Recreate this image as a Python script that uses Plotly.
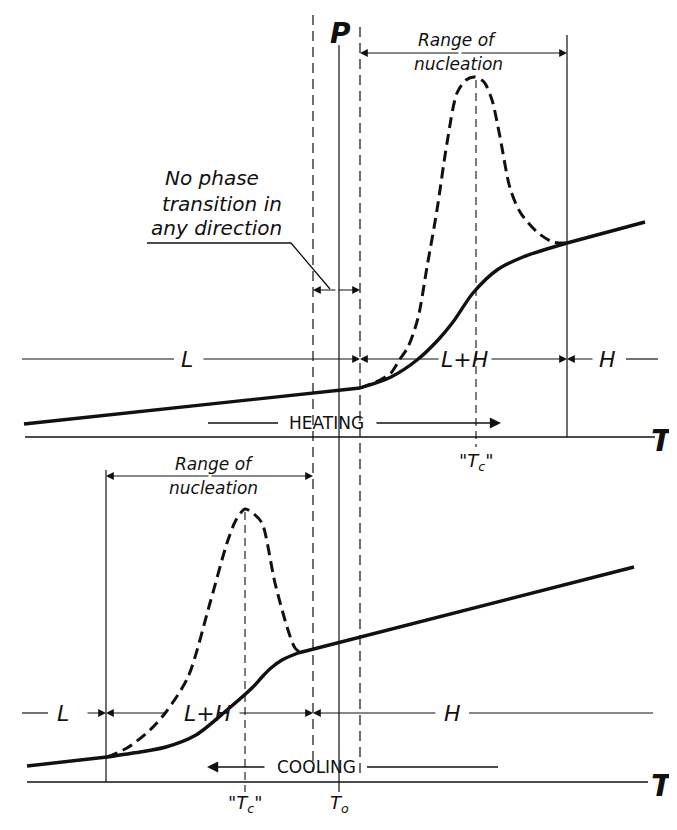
import plotly.graph_objects as go

# ---- curve data (x = T direction, y = pixel row, downwards) ----
# heating (upper panel)
heat_lin_x = [24, 360]
heat_lin_y = [424, 388]
heat_solid_x = [360, 391, 417, 438, 453, 473, 497, 523, 567]
heat_solid_y = [388, 377, 360, 340, 322, 293, 270, 257, 243]
heat_high_x = [567, 645]
heat_high_y = [243, 222]
heat_dash_x = [360, 380, 391, 400, 408, 418, 427, 437, 447, 457, 466, 475, 484, 492, 500, 510, 520, 537, 553, 567]
heat_dash_y = [388, 380, 373, 359, 347, 318, 267, 210, 143, 93, 80, 77, 82, 100, 137, 188, 212, 232, 242, 243]

# cooling (lower panel)
cool_lin_x = [27, 107]
cool_lin_y = [766, 757]
cool_solid_x = [107, 140, 166, 196, 227, 253, 262, 271, 282, 298]
cool_solid_y = [757, 752, 747, 735, 710, 687, 677, 668, 660, 653]
cool_high_x = [298, 634]
cool_high_y = [653, 567]
cool_dash_x = [107, 127, 150, 166, 188, 210, 227, 236, 245, 254, 262, 275, 288, 295, 301]
cool_dash_y = [757, 748, 730, 712, 677, 603, 543, 520, 509, 514, 523, 583, 630, 648, 653]

# characteristic temperatures (x positions)
T_low = 313       # left edge of "no transition" band
T_0 = 339         # P / T0
T_high = 360      # right edge of band
Tc_heat = 476
Tc_cool = 245
nuc_heat_end = 567
nuc_cool_start = 106

axis_heat_y = 437
axis_cool_y = 782
dim_heat_y = 359
dim_cool_y = 713

# the page body has an 8px margin, so the figure starts 8px in
OFF = 8

fig = go.Figure()


def line(x, y, width=1.2, dash="solid", color="#111"):
    fig.add_trace(go.Scatter(x=x, y=y, mode="lines", hoverinfo="skip", showlegend=False,
                             line=dict(color=color, width=width, dash=dash)))


def spline(x, y, width=3.4, dash="solid"):
    fig.add_trace(go.Scatter(x=x, y=y, mode="lines", hoverinfo="skip", showlegend=False,
                             line=dict(color="#111", width=width, dash=dash, shape="spline", smoothing=0.8)))


def arrow(x0, y0, x1, y1, head=2, size=1.3, width=1.2):
    # arrow drawn from (x0, y0) to tip at (x1, y1)
    fig.add_annotation(x=x1, y=y1, ax=x0, ay=y0, xref="x", yref="y", axref="x", ayref="y",
                       text="", showarrow=True, arrowhead=head, arrowsize=size,
                       arrowwidth=width, arrowcolor="#111")


def label(x, y, text, size=18, italic=True, bold=False, family="DejaVu Sans"):
    fig.add_annotation(x=x, y=y, xref="x", yref="y", text=text, showarrow=False,
                       font=dict(family=family, size=size, color="#111",
                                 style="italic" if italic else "normal",
                                 weight="bold" if bold else "normal"))


# ---- vertical reference lines ----
line([T_low, T_low], [15, 772], width=1.2, dash="10px,6px")
line([T_high, T_high], [27, 776], width=1.2, dash="10px,6px")
line([T_0, T_0], [45, 792], width=1.2)
line([nuc_heat_end, nuc_heat_end], [35, axis_heat_y], width=1.2)
line([nuc_cool_start, nuc_cool_start], [470, axis_cool_y], width=1.2)
line([Tc_heat, Tc_heat], [80, 447], width=1.1, dash="8px,5px")
line([Tc_cool, Tc_cool], [512, 792], width=1.1, dash="8px,5px")

# ---- T axes ----
line([25, 655], [axis_heat_y, axis_heat_y], width=1.6)
line([27, 648], [axis_cool_y, axis_cool_y], width=1.6)

# ---- curves ----
line(heat_lin_x, heat_lin_y, width=3.4)
spline(heat_solid_x, heat_solid_y)
line(heat_high_x, heat_high_y, width=3.4)
spline(heat_dash_x, heat_dash_y, width=3.0, dash="11px,6px")

line(cool_lin_x, cool_lin_y, width=3.4)
spline(cool_solid_x, cool_solid_y)
line(cool_high_x, cool_high_y, width=3.4)
spline(cool_dash_x, cool_dash_y, width=3.0, dash="11px,6px")

# ---- upper dimension line: L | L+H | H ----
line([22, 174], [dim_heat_y, dim_heat_y])
arrow(202, dim_heat_y, T_high, dim_heat_y)
arrow(440, dim_heat_y, T_high, dim_heat_y)
arrow(490, dim_heat_y, nuc_heat_end, dim_heat_y)
arrow(594, dim_heat_y, nuc_heat_end, dim_heat_y)
line([626, 658], [dim_heat_y, dim_heat_y])
label(187, dim_heat_y, "L", size=22)
label(464, dim_heat_y, "L+H", size=22)
label(607, dim_heat_y, "H", size=22)

# ---- lower dimension line: L | L+H | H ----
line([22, 48], [dim_cool_y, dim_cool_y])
arrow(86, dim_cool_y, nuc_cool_start, dim_cool_y)
arrow(166, dim_cool_y, nuc_cool_start, dim_cool_y)
arrow(238, dim_cool_y, T_low, dim_cool_y)
arrow(437, dim_cool_y, T_low, dim_cool_y)
line([469, 653], [dim_cool_y, dim_cool_y])
label(63, dim_cool_y, "L", size=22)
label(207, dim_cool_y, "L+H", size=22)
label(452, dim_cool_y, "H", size=22)

# ---- ranges of nucleation ----
arrow(460, 53, T_high, 53)
arrow(460, 53, nuc_heat_end, 53)
label(457, 40, "Range of", size=17)
label(458, 64, "nucleation", size=17)

arrow(210, 476, nuc_cool_start, 476)
arrow(210, 476, T_low, 476)
label(214, 464, "Range of", size=17)
label(213, 488, "nucleation", size=17)

# ---- no phase transition band ----
label(212, 178, "No phase", size=20)
label(222, 204, "transition in", size=20)
label(216, 228, "any direction", size=20)
line([147, 291, 330], [243, 243, 289], width=1.3)
arrow(337, 290, T_low, 290)
arrow(337, 290, T_high, 290)

# ---- heating / cooling arrows ----
line([208, 278], [423, 423], width=1.3)
arrow(375, 423, 501, 423, head=2, size=1.6, width=1.4)
label(326, 423, "HEATING", size=17, italic=False)

line([367, 498], [767, 767], width=1.3)
arrow(266, 767, 207, 767, head=2, size=1.6, width=1.4)
label(316, 767, "COOLING", size=17, italic=False)

# ---- labels ----
label(340, 33, "P", size=28, bold=True)
label(662, 440, "T", size=30, bold=True)
label(662, 785, "T", size=30, bold=True)
label(Tc_heat, 462, "\"T<sub>c</sub>\"", size=18)
label(Tc_cool, 804, "\"T<sub>c</sub>\"", size=18)
label(T_0, 804, "T<sub>o</sub>", size=18)

fig.update_layout(
    width=677 - OFF, height=830 - OFF,
    margin=dict(l=0, r=0, t=0, b=0),
    paper_bgcolor="white", plot_bgcolor="white",
    xaxis=dict(range=[OFF, 677], visible=False, fixedrange=True),
    yaxis=dict(range=[830, OFF], visible=False, fixedrange=True),
    showlegend=False,
)

fig.write_html("out.html")
